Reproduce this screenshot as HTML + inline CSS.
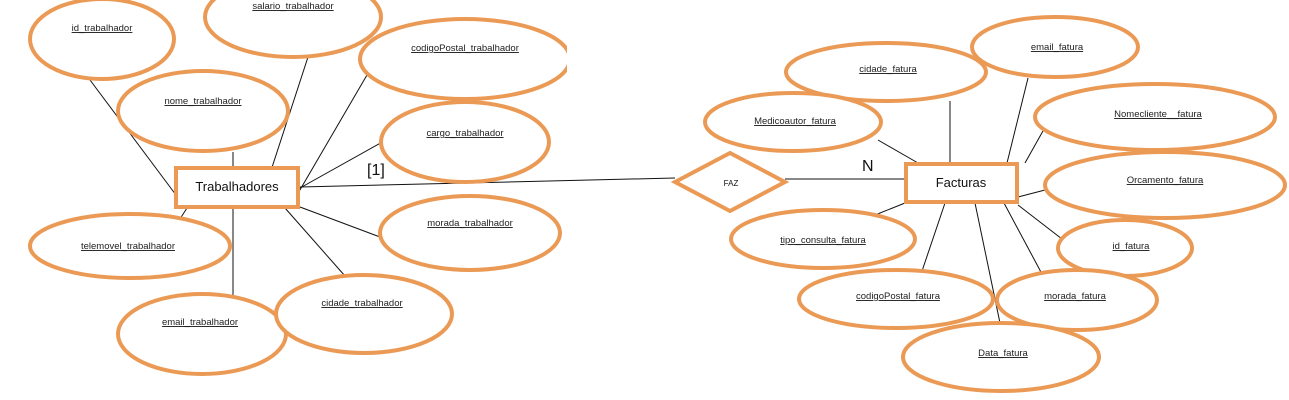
<!DOCTYPE html><html><head><meta charset="utf-8"><style>
body{margin:0;background:#fff}
svg{display:block}
text{font-family:"Liberation Sans",sans-serif}
.t{font-size:9.5px;text-anchor:middle;fill:#222;text-decoration:underline wavy #d33;}
</style></head><body>
<svg width="1289" height="400" viewBox="0 0 1289 400">
<g stroke="#111" stroke-width="1" fill="none">
<line x1="90" y1="80" x2="176" y2="195"/>
<line x1="233" y1="152" x2="233" y2="167"/>
<line x1="308" y1="57" x2="263" y2="195"/>
<line x1="367" y1="75" x2="297" y2="195"/>
<line x1="386" y1="140" x2="300" y2="188"/>
<line x1="300" y1="187" x2="675" y2="178"/>
<line x1="300" y1="207" x2="380" y2="237"/>
<line x1="285" y1="208" x2="345" y2="276"/>
<line x1="233" y1="208" x2="233" y2="296"/>
<line x1="187" y1="208" x2="178" y2="222"/>
<line x1="785" y1="179" x2="905" y2="179"/>
<line x1="950" y1="101" x2="950" y2="163"/>
<line x1="1028" y1="78" x2="1007" y2="163"/>
<line x1="1048" y1="122" x2="1025" y2="163"/>
<line x1="1018" y1="197" x2="1045" y2="190"/>
<line x1="878" y1="140" x2="918" y2="163"/>
<line x1="875" y1="215" x2="905" y2="203"/>
<line x1="920" y1="277" x2="945" y2="203"/>
<line x1="975" y1="203" x2="1000" y2="323"/>
<line x1="1004" y1="203" x2="1042" y2="274"/>
<line x1="1018" y1="205" x2="1062" y2="239"/>
</g>
<g stroke="#eb9a55" stroke-width="4" fill="#fff">
<ellipse cx="102" cy="39" rx="72" ry="40"/>
<ellipse cx="293" cy="17" rx="88" ry="40"/>
<ellipse cx="465" cy="59" rx="105" ry="40"/>
<ellipse cx="203" cy="111" rx="85" ry="40"/>
<ellipse cx="465" cy="142" rx="84" ry="40"/>
<ellipse cx="130" cy="246" rx="100" ry="32"/>
<ellipse cx="470" cy="233" rx="90" ry="37"/>
<ellipse cx="202" cy="334" rx="84" ry="40"/>
<ellipse cx="364" cy="314" rx="88" ry="39"/>
<rect x="176" y="168" width="122" height="39"/>
<ellipse cx="886" cy="72" rx="100" ry="29"/>
<ellipse cx="1055" cy="47" rx="83" ry="30"/>
<ellipse cx="793" cy="122" rx="88" ry="29"/>
<ellipse cx="1155" cy="117" rx="120" ry="33"/>
<ellipse cx="1165" cy="185" rx="120" ry="33"/>
<ellipse cx="823" cy="239" rx="92" ry="29"/>
<ellipse cx="1125" cy="248" rx="67" ry="28"/>
<ellipse cx="896" cy="299" rx="97" ry="29"/>
<ellipse cx="1077" cy="300" rx="80" ry="30"/>
<ellipse cx="1001" cy="357" rx="98" ry="34"/>
<rect x="906" y="164" width="111" height="38"/>
<polygon points="675,182 730,153 785,182 730,211"/>
</g>
<rect x="567" y="0" width="10" height="120" fill="#fff"/>
<g class="t">
<text x="102" y="31">id_trabalhador</text>
<text x="293" y="9">salario_trabalhador</text>
<text x="465" y="51">codigoPostal_trabalhador</text>
<text x="203" y="104">nome_trabalhador</text>
<text x="465" y="136">cargo_trabalhador</text>
<text x="128" y="249">telemovel_trabalhador</text>
<text x="470" y="226">morada_trabalhador</text>
<text x="200" y="325">email_trabalhador</text>
<text x="362" y="306">cidade_trabalhador</text>
<text x="888" y="72">cidade_fatura</text>
<text x="1057" y="50">email_fatura</text>
<text x="795" y="124">Medicoautor_fatura</text>
<text x="1158" y="117">Nomecliente__fatura</text>
<text x="1165" y="183">Orcamento_fatura</text>
<text x="823" y="243">tipo_consulta_fatura</text>
<text x="1131" y="249">id_fatura</text>
<text x="898" y="299">codigoPostal_fatura</text>
<text x="1075" y="299">morada_fatura</text>
<text x="1003" y="356">Data_fatura</text>
</g>
<text x="237" y="191" font-size="13" text-anchor="middle" fill="#111">Trabalhadores</text>
<text x="961" y="187" font-size="13" text-anchor="middle" fill="#111">Facturas</text>
<text x="731" y="186" font-size="8" text-anchor="middle" fill="#111">FAZ</text>
<text x="367" y="175" font-size="16" fill="#111">[1]</text>
<text x="862" y="171" font-size="16" fill="#111">N</text>
</svg></body></html>
